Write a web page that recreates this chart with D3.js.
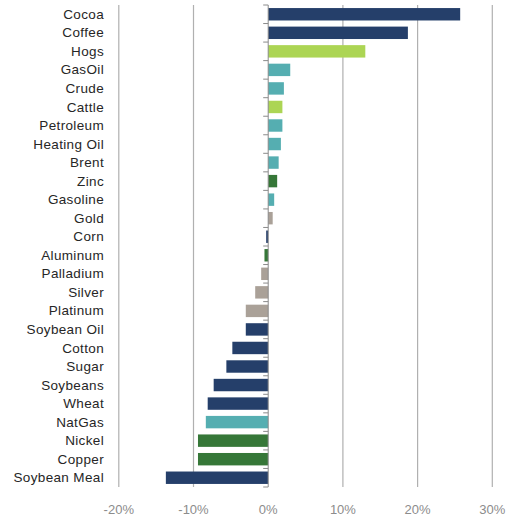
<!DOCTYPE html>
<html><head><meta charset="utf-8">
<script src="https://cdn.jsdelivr.net/npm/d3@7"></script>
<style>body{margin:0;background:#fff;}svg{display:block;font-family:"Liberation Sans",Arial,sans-serif;}</style>
</head><body><svg id="c" width="515" height="516"></svg>
<script>
const categories = ["Cocoa","Coffee","Hogs","GasOil","Crude","Cattle","Petroleum","Heating Oil","Brent","Zinc","Gasoline","Gold","Corn","Aluminum","Palladium","Silver","Platinum","Soybean Oil","Cotton","Sugar","Soybeans","Wheat","NatGas","Nickel","Copper","Soybean Meal"];
const values = [25.7,18.7,13.0,2.95,2.1,1.9,1.9,1.7,1.4,1.2,0.8,0.6,-0.27,-0.5,-0.94,-1.74,-3.0,-3.0,-4.8,-5.6,-7.3,-8.1,-8.35,-9.4,-9.4,-13.7];
const groups = ["softs","softs","livestock","energy","energy","livestock","energy","energy","energy","metals","energy","precious","grains","metals","precious","precious","precious","grains","softs","softs","grains","grains","energy","metals","metals","grains"];
const groupNames = ["softs","grains","livestock","energy","metals","precious"];
const groupColors = ["#253f6a","#253f6a","#acd554","#55aeb1","#367738","#aaa198"];
const xTicks = [-20,-10,0,10,20,30];

const svg = d3.select("#c");
const x = d3.scaleLinear().domain([-20,30]).range([118.8,492.3]);
const y = d3.scaleBand().domain(categories).range([5,487]).paddingInner(0.33).paddingOuter(0.165);
const color = d3.scaleOrdinal().domain(groupNames).range(groupColors);

// gridlines
svg.append("g").selectAll("line").data(xTicks.filter(d=>d!==0)).join("line")
  .attr("x1",d=>x(d)).attr("x2",d=>x(d)).attr("y1",5).attr("y2",487)
  .attr("stroke","#b0b0b0").attr("stroke-width",1.2);

// bars
const data = categories.map((c,i)=>({c, v: values[i], g: groups[i]}));
svg.append("g").selectAll("rect").data(data).join("rect")
  .attr("x",d=>x(Math.min(0,d.v))).attr("width",d=>Math.abs(x(d.v)-x(0)))
  .attr("y",d=>y(d.c)).attr("height",y.bandwidth())
  .attr("fill",d=>color(d.g));

// zero axis with category ticks
svg.append("line").attr("x1",x(0)).attr("x2",x(0)).attr("y1",5).attr("y2",487)
  .attr("stroke","#8a8a8a").attr("stroke-width",1);
const bounds = d3.range(categories.length+1).map(i=>5+i*y.step());
svg.append("g").selectAll("line").data(bounds).join("line")
  .attr("x1",x(0)-5).attr("x2",x(0)).attr("y1",d=>d).attr("y2",d=>d)
  .attr("stroke","#8a8a8a").attr("stroke-width",1);

// category labels
svg.append("g").selectAll("text").data(categories).join("text")
  .attr("x",104).attr("y",d=>y(d)+y.bandwidth()/2+1)
  .attr("text-anchor","end").attr("dominant-baseline","middle")
  .attr("font-size",13.5).attr("letter-spacing",0.35).attr("fill","#262626")
  .text(d=>d);

// x tick labels
svg.append("g").selectAll("text").data(xTicks).join("text")
  .attr("x",d=>x(d)).attr("y",514).attr("text-anchor","middle")
  .attr("font-size",13).attr("fill","#8c8c8c")
  .text(d=>d+"%");
</script></body></html>
